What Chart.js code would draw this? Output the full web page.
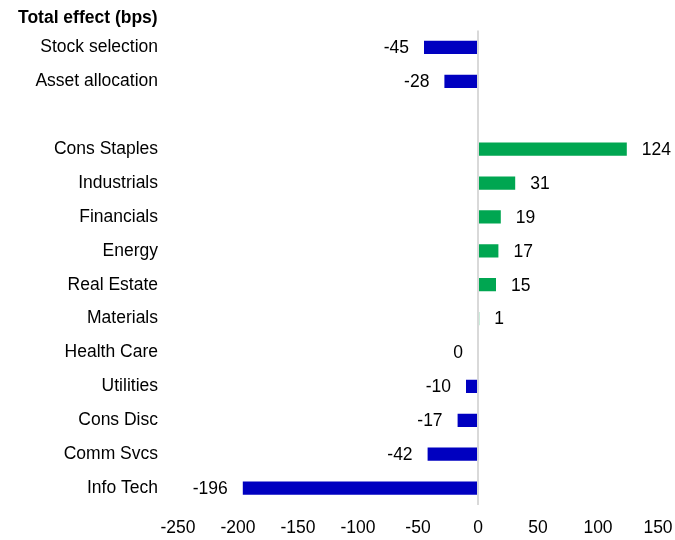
<!DOCTYPE html>
<html>
<head>
<meta charset="utf-8">
<script src="https://cdn.jsdelivr.net/npm/chart.js@4/dist/chart.umd.min.js"></script>
<style>
  html, body { margin: 0; padding: 0; background: #ffffff; }
  #wrap { width: 675px; height: 540px; position: relative; }
</style>
</head>
<body>
<div id="wrap"><canvas id="effectChart"></canvas></div>
<script>
const categories = [
  "Stock selection", "Asset allocation", "",
  "Cons Staples", "Industrials", "Financials", "Energy", "Real Estate",
  "Materials", "Health Care", "Utilities", "Cons Disc", "Comm Svcs", "Info Tech"
];
const effectBps = [-45, -28, null, 124, 31, 19, 17, 15, 1, 0, -10, -17, -42, -196];
const xTicks = [-250, -200, -150, -100, -50, 0, 50, 100, 150];

const POS_COLOR = "#00a651";
const NEG_COLOR = "#0000c0";
const FONT = "\"Liberation Sans\", Arial, sans-serif";
const TXT = 17.5;

Chart.defaults.font.family = FONT;
Chart.defaults.color = "#000000";

// simple outside-end value labels (no datalabels plugin in the sandbox)
const valueLabels = {
  id: "valueLabels",
  afterDatasetsDraw(chart) {
    const meta = chart.getDatasetMeta(0);
    const ctx = chart.ctx;
    ctx.save();
    ctx.font = TXT + "px " + FONT;
    ctx.fillStyle = "#000000";
    ctx.textBaseline = "middle";
    meta.data.forEach((bar, i) => {
      const v = effectBps[i];
      if (v === null || v === undefined) return;
      if (v > 0) {
        ctx.textAlign = "left";
        ctx.fillText(String(v), bar.x + 15, bar.y + 1);
      } else {
        ctx.textAlign = "right";
        ctx.fillText(String(v), bar.x - 15, bar.y + 1);
      }
    });
    ctx.restore();
  }
};

new Chart(document.getElementById("effectChart"), {
  type: "bar",
  data: {
    labels: categories,
    datasets: [{
      label: "Total effect (bps)",
      data: effectBps,
      backgroundColor: effectBps.map((v) => (v > 0 ? POS_COLOR : NEG_COLOR)),
      categoryPercentage: 1,
      barPercentage: 0.39
    }]
  },
  options: {
    indexAxis: "y",
    responsive: true,
    maintainAspectRatio: false,
    animation: false,
    layout: { padding: { left: 18, right: 17, top: 0, bottom: 0 } },
    plugins: {
      legend: { display: false },
      tooltip: { enabled: false },
      title: {
        display: true,
        text: "Total effect (bps)",
        align: "start",
        color: "#000000",
        font: { size: TXT, weight: "bold", family: FONT, lineHeight: 1.15 },
        padding: { top: 8, bottom: 2 }
      }
    },
    scales: {
      x: {
        min: -250,
        max: 150,
        afterBuildTicks: (scale) => { scale.ticks = xTicks.map((v) => ({ value: v })); },
        afterFit: (scale) => {
          scale.height = 35;
          scale.paddingRight = 0;
          scale.paddingLeft = 0;
        },
        border: { display: false },
        grid: {
          drawTicks: false,
          color: (c) => (c.tick && c.tick.value === 0 ? "#d9d9d9" : "rgba(0,0,0,0)"),
          lineWidth: 2
        },
        ticks: {
          padding: 13,
          maxRotation: 0,
          font: { size: TXT },
          color: "#000000"
        }
      },
      y: {
        afterFit: (scale) => { scale.width = 160; },
        border: { display: false },
        grid: { display: false, drawTicks: false },
        ticks: {
          padding: 20,
          autoSkip: false,
          font: { size: TXT },
          color: "#000000"
        }
      }
    }
  },
  plugins: [valueLabels]
});
</script>
</body>
</html>
